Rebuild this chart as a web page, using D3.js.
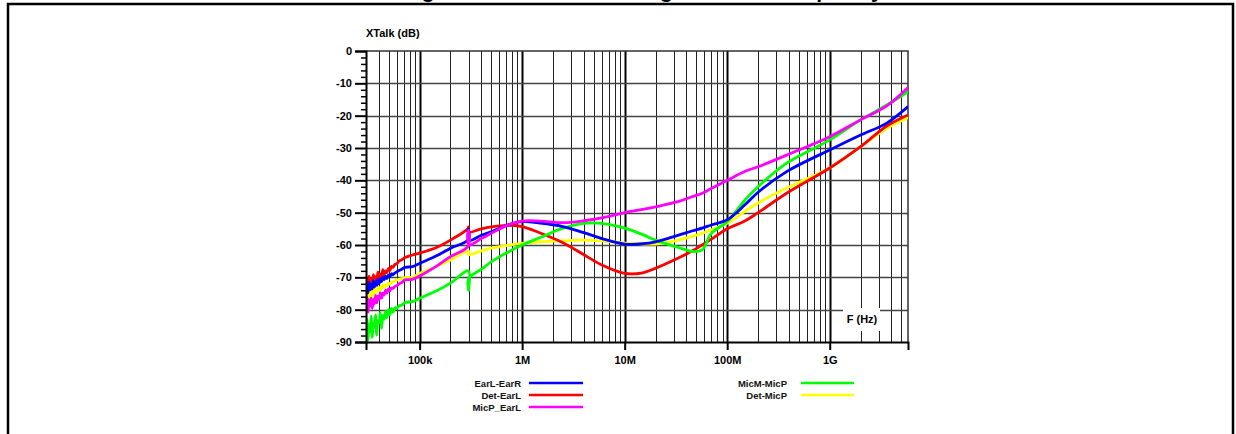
<!DOCTYPE html>
<html>
<head>
<meta charset="utf-8">
<script src="https://cdn.jsdelivr.net/npm/d3@7"></script>
<style>
  html, body { margin: 0; padding: 0; background: #fff; }
  svg { display: block; font-family: "Liberation Sans", Arial, sans-serif; }
</style>
</head>
<body>
<div id="chart"></div>
<script>
// ---------------- DATA ----------------
const titleText = "Single-Ended Crosstalk Magnitude vs. Frequency";
const yAxisTitle = "XTalk (dB)";
const xAxisTitle = "F (Hz)";

const xTickValues = [1e5, 1e6, 1e7, 1e8, 1e9];
const xTickLabels = ["100k", "1M", "10M", "100M", "1G"];
const yTickValues = [0, -10, -20, -30, -40, -50, -60, -70, -80, -90];
const yTickLabels = ["0", "-10", "-20", "-30", "-40", "-50", "-60", "-70", "-80", "-90"];

// noisy low-frequency section (Hz)
const lowFreq = [30000, 30700, 31400, 32100, 32900, 33700, 34500, 35400, 36300, 37200,
  38200, 39200, 40300, 41400, 42600, 43800, 45100, 46500, 48000, 49600,
  51300, 53100, 55000, 57500, 60000, 63000, 67000, 72000];
// main section (Hz)
const mainFreq = [85e3, 1e5, 1.5e5, 2e5, 2.99e5, 3e5, 3.01e5, 4e5, 5e5, 7e5, 1e6, 1.5e6, 2.5e6,
  4e6, 6e6, 1e7, 1.5e7, 2e7, 3.3e7, 4.6e7, 5.7e7, 7e7, 1e8, 1.5e8, 2e8, 3.8e8, 1e9, 2e9, 3.6e9, 5.8e9];

const earLEarR_low = [-75.5, -72.0, -74.8, -71.5, -73.9, -72.2, -73.6, -71.0, -73.0, -71.4,
  -72.5, -70.6, -72.0, -70.5, -71.3, -69.9, -70.8, -69.6, -70.4, -69.3,
  -69.8, -68.9, -69.2, -68.6, -68.3, -67.9, -67.5, -66.9];
const earLEarR_main = [-66.7, -65.7, -63.2, -61.0, -58.3, -55.0, -58.6, -57.0, -55.9, -54.0, -52.8, -53.2, -54.3,
  -56.2, -58.0, -59.7, -59.6, -59.0, -57.0, -55.6, -54.8, -53.8, -52.2, -47.5, -43.7, -37.3, -30.6, -26.0, -22.3, -17.2];

const detEarL_low = [-72.0, -70.3, -72.6, -69.6, -71.8, -70.4, -72.0, -69.2, -71.0, -69.8,
  -70.9, -68.4, -70.2, -68.9, -69.8, -67.6, -69.2, -68.0, -68.6, -67.2,
  -67.9, -66.6, -66.9, -66.0, -65.8, -65.0, -64.6, -63.9];
const detEarL_main = [-63.1, -62.5, -60.6, -58.5, -54.8, -54.4, -56.0, -55.0, -54.4, -53.9, -54.3, -56.3, -59.3,
  -63.0, -66.2, -68.8, -68.6, -67.2, -64.1, -61.8, -60.0, -58.2, -55.0, -52.5, -50.0, -44.0, -36.2, -29.6, -23.2, -19.8];

const micPEarL_low = [-79.5, -76.2, -80.8, -77.0, -78.9, -76.4, -79.6, -76.8, -78.2, -75.6,
  -77.9, -75.8, -76.9, -74.8, -76.4, -74.9, -75.5, -74.0, -74.9, -73.6,
  -74.2, -73.3, -73.4, -72.8, -72.6, -72.0, -71.6, -70.8];
const micPEarL_main = [-70.6, -69.6, -66.3, -63.6, -60.3, -55.5, -60.0, -58.0, -56.4, -54.0, -52.6, -52.6, -53.1,
  -52.5, -51.6, -50.0, -49.0, -48.2, -46.6, -45.0, -44.0, -42.5, -40.0, -37.2, -35.8, -32.2, -26.5, -21.3, -17.0, -11.3];

const micMMicP_low = [-87.5, -83.0, -89.5, -84.5, -86.8, -82.0, -88.6, -84.2, -85.5, -81.6,
  -87.9, -83.5, -84.0, -80.9, -85.8, -81.8, -83.0, -80.5, -82.5, -80.0,
  -81.6, -79.6, -80.8, -79.4, -79.6, -78.8, -78.6, -77.8];
const micMMicP_main = [-77.5, -76.5, -74.0, -71.8, -68.0, -74.0, -70.3, -67.5, -65.2, -62.5, -60.0, -57.7, -54.8,
  -53.3, -53.3, -54.8, -56.8, -58.5, -60.7, -62.0, -61.5, -56.4, -52.8, -46.0, -42.0, -34.7, -27.5, -21.3, -16.7, -12.6];

const detMicP_low = [-76.0, -74.2, -77.3, -73.6, -75.9, -74.6, -76.3, -73.4, -75.0, -73.8,
  -74.6, -72.9, -74.2, -73.0, -73.6, -72.2, -73.2, -72.4, -72.7, -71.8,
  -72.1, -71.4, -71.5, -71.0, -70.9, -70.6, -70.4, -70.1];
const detMicP_main = [-69.9, -68.8, -66.5, -64.6, -61.8, -62.4, -63.0, -61.8, -61.0, -60.2, -59.5, -59.0, -58.7,
  -58.5, -58.7, -59.4, -59.7, -59.7, -58.5, -57.3, -56.4, -55.3, -53.3, -49.5, -47.0, -42.4, -36.2, -29.6, -23.9, -20.6];

const seriesNames = ["EarL-EarR", "Det-EarL", "MicP_EarL", "MicM-MicP", "Det-MicP"];
const seriesColors = ["#0000ff", "#ff0000", "#ff00ff", "#00ff00", "#ffff00"];
const seriesLow = [earLEarR_low, detEarL_low, micPEarL_low, micMMicP_low, detMicP_low];
const seriesMain = [earLEarR_main, detEarL_main, micPEarL_main, micMMicP_main, detMicP_main];

// ---------------- CHART ----------------
const W = 1236, H = 434;
const plot = { left: 366, right: 908, top: 51, bottom: 342 };

const svg = d3.select("#chart").append("svg").attr("width", W).attr("height", H);

// title (mostly clipped at top, as in reference)
svg.append("text")
  .attr("x", 636).attr("y", -2)
  .attr("text-anchor", "middle")
  .attr("font-size", 21).attr("font-weight", "bold")
  .attr("fill", "#000")
  .text(titleText);

// outer frame
svg.append("path")
  .attr("d", `M8,${H} L8,4 L1233,4 L1233,${H}`)
  .attr("fill", "none").attr("stroke", "#000").attr("stroke-width", 2.5);

const x = d3.scaleLog().domain([3e4, 5.8e9]).range([plot.left, plot.right]);
const y = d3.scaleLinear().domain([-90, 0]).range([plot.bottom, plot.top]);

// grid
const gridG = svg.append("g");
const allX = x.ticks().filter(v => v > 3e4 && v < 5.8e9);
const isDecade = d => {
  const m = d / Math.pow(10, Math.floor(Math.log10(d) + 1e-9));
  return Math.abs(m - 1) < 1e-6;
};
gridG.selectAll("line.vx").data(allX).enter().append("line")
  .attr("x1", d => Math.round(x(d)) + 0.5).attr("x2", d => Math.round(x(d)) + 0.5)
  .attr("y1", plot.top).attr("y2", plot.bottom)
  .attr("stroke", d => isDecade(d) ? "#000" : "#222")
  .attr("stroke-width", d => isDecade(d) ? 2 : 1);
gridG.selectAll("line.hy").data(yTickValues.filter(v => v > -90 && v < 0)).enter().append("line")
  .attr("x1", plot.left).attr("x2", plot.right)
  .attr("y1", d => Math.round(y(d)) + 0.5).attr("y2", d => Math.round(y(d)) + 0.5)
  .attr("stroke", "#444").attr("stroke-width", 1.3);

// plot border (top/right)
svg.append("path")
  .attr("d", `M${plot.left},${plot.top} L${plot.right},${plot.top} L${plot.right},${plot.bottom}`)
  .attr("fill", "none").attr("stroke", "#333").attr("stroke-width", 1.5);

// F (Hz) label with white background
svg.append("rect").attr("x", 843).attr("y", 308).attr("width", 37).attr("height", 23).attr("fill", "#fff");
svg.append("text").attr("x", 862).attr("y", 323).attr("text-anchor", "middle")
  .attr("font-size", 11).attr("font-weight", "bold").text(xAxisTitle);

// curves
svg.append("clipPath").attr("id", "clip").append("rect")
  .attr("x", plot.left).attr("y", plot.top)
  .attr("width", plot.right - plot.left).attr("height", plot.bottom - plot.top);

const line = d3.line().x(d => x(d.f)).y(d => y(d.v)).curve(d3.curveCatmullRom.alpha(0.5));
const drawOrder = [4, 1, 3, 0, 2];
const curvesG = svg.append("g").attr("clip-path", "url(#clip)");
drawOrder.forEach(i => {
  const pts = lowFreq.map((f, k) => ({ f, v: seriesLow[i][k] }))
    .concat(mainFreq.map((f, k) => ({ f, v: seriesMain[i][k] })));
  curvesG.append("path").datum(pts)
    .attr("d", line)
    .attr("fill", "none")
    .attr("stroke", seriesColors[i])
    .attr("stroke-width", 2.8)
    .attr("stroke-linejoin", "round");
});

// axes
const yAxisMajor = d3.axisLeft(y).tickValues(yTickValues)
  .tickFormat((d, i) => yTickLabels[i]).tickSize(11).tickPadding(3);
const yAx = svg.append("g").attr("transform", `translate(${plot.left},0)`).call(yAxisMajor);
yAx.select(".domain").attr("stroke", "#000").attr("stroke-width", 2);
yAx.selectAll(".tick line").attr("stroke", "#000").attr("stroke-width", 2);
yAx.selectAll("text").attr("font-size", 11).attr("font-weight", "bold").attr("fill", "#000")
  .attr("font-family", "Liberation Sans, Arial, sans-serif");

const yMinor = d3.axisLeft(y).tickValues(d3.range(-90, 1, 2).filter(v => v % 10 !== 0))
  .tickSize(5).tickFormat("");
const yMin = svg.append("g").attr("transform", `translate(${plot.left},0)`).call(yMinor);
yMin.select(".domain").remove();
yMin.selectAll(".tick line").attr("stroke", "#000").attr("stroke-width", 1.5);

const xAxis = d3.axisBottom(x).tickValues(xTickValues)
  .tickFormat((d, i) => xTickLabels[i]).tickSize(8).tickPadding(6);
const xAx = svg.append("g").attr("transform", `translate(0,${plot.bottom})`).call(xAxis);
xAx.select(".domain").attr("stroke", "#000").attr("stroke-width", 2);
xAx.selectAll(".tick line").attr("stroke", "#000").attr("stroke-width", 2);
xAx.selectAll("text").attr("font-size", 11).attr("font-weight", "bold").attr("fill", "#000")
  .attr("font-family", "Liberation Sans, Arial, sans-serif");

// y axis title
svg.append("text").attr("x", 366).attr("y", 37)
  .attr("font-size", 11).attr("font-weight", "bold").text(yAxisTitle);

// legend
const legendPos = [
  { tx: 521, lx1: 529, lx2: 583, y: 383 },
  { tx: 521, lx1: 529, lx2: 583, y: 395 },
  { tx: 521, lx1: 529, lx2: 583, y: 407 },
  { tx: 787, lx1: 801, lx2: 854, y: 383 },
  { tx: 787, lx1: 801, lx2: 854, y: 395 }
];
const lg = svg.append("g");
seriesNames.forEach((name, i) => {
  const p = legendPos[i];
  lg.append("text").attr("x", p.tx).attr("y", p.y + 3.5)
    .attr("text-anchor", "end").attr("font-size", 9.5).attr("font-weight", "bold")
    .attr("fill", "#111").text(name);
  lg.append("line").attr("x1", p.lx1).attr("x2", p.lx2).attr("y1", p.y).attr("y2", p.y)
    .attr("stroke", seriesColors[i]).attr("stroke-width", 2.5);
});
</script>
</body>
</html>
